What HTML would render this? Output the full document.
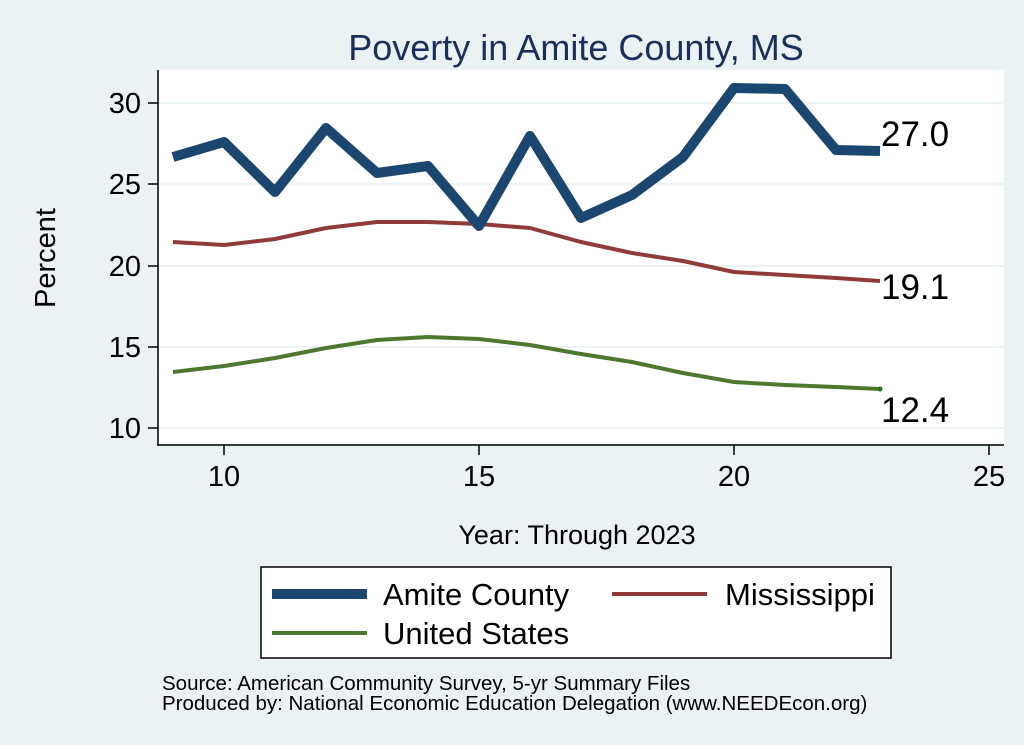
<!DOCTYPE html><html><head><style>body{margin:0;background:#eaf2f3;}svg{display:block;font-family:"Liberation Sans",sans-serif}</style></head><body>
<svg width="1024" height="745" xmlns="http://www.w3.org/2000/svg">
<rect width="1024" height="745" fill="#eaf2f3"/>
<text x="576" y="60" font-size="36" fill="#1a2f5a" text-anchor="middle">Poverty in Amite County, MS</text>
<rect x="158" y="70" width="846" height="374" fill="#fff"/>
<g stroke="#eaf2f3" stroke-width="2">
<line x1="158" x2="1004" y1="103" y2="103"/><line x1="158" x2="1004" y1="184" y2="184"/><line x1="158" x2="1004" y1="266" y2="266"/><line x1="158" x2="1004" y1="347" y2="347"/><line x1="158" x2="1004" y1="428" y2="428"/></g>
<g stroke="#000" stroke-width="1.5">
<line x1="158" x2="158" y1="70" y2="445"/><line x1="157" x2="1004" y1="445" y2="445"/>
<line x1="148" x2="158" y1="103" y2="103"/><line x1="148" x2="158" y1="184" y2="184"/><line x1="148" x2="158" y1="266" y2="266"/><line x1="148" x2="158" y1="347" y2="347"/><line x1="148" x2="158" y1="428" y2="428"/>
<line x1="224" x2="224" y1="445" y2="455"/><line x1="479" x2="479" y1="445" y2="455"/><line x1="734" x2="734" y1="445" y2="455"/><line x1="989" x2="989" y1="445" y2="455"/></g>
<g font-size="29" text-anchor="end"><text x="141" y="113">30</text><text x="141" y="194">25</text><text x="141" y="276">20</text><text x="141" y="357">15</text><text x="141" y="438">10</text></g>
<g font-size="29" text-anchor="middle"><text x="224" y="486">10</text><text x="479" y="486">15</text><text x="734" y="486">20</text><text x="989" y="486">25</text></g>
<text x="55" y="258" font-size="29" text-anchor="middle" transform="rotate(-90 55 258)">Percent</text>
<text x="577" y="544" font-size="27" text-anchor="middle">Year: Through 2023</text>
<polyline fill="none" stroke="#4e7730" stroke-width="4" stroke-linejoin="round" points="173,372 224,366 275,358 326,348 377,340 428,337 479,339 530,345 581,354 632,362 683,373 734,382 785,385 836,387 880,389"/>
<circle cx="880" cy="389" r="2.5" fill="#1a7a1a"/>
<polyline fill="none" stroke="#903a3a" stroke-width="4" stroke-linejoin="round" points="173,242 224,245 275,239 326,228 377,222 428,222 479,224 530,228 581,242 632,253 683,261 734,272 785,275 836,278 880,281"/>
<polyline fill="none" stroke="#1b4670" stroke-width="10" stroke-linejoin="round" points="173,157 224,142 275,192 326,128 377,173 428,166 479,226 530,136 581,218 632,195 683,157 734,88 785,89 836,150 880,151"/>
<g font-size="35"><text x="881" y="146">27.0</text><text x="881" y="299">19.1</text><text x="881" y="422">12.4</text></g>
<rect x="261" y="567" width="630" height="91" fill="#fff" stroke="#000" stroke-width="1.5"/>
<line x1="272" x2="367" y1="594" y2="594" stroke="#1b4670" stroke-width="10"/>
<text x="383" y="605" font-size="31">Amite County</text>
<line x1="612" x2="707" y1="594" y2="594" stroke="#903a3a" stroke-width="4"/>
<text x="725" y="605" font-size="31">Mississippi</text>
<line x1="272" x2="367" y1="633" y2="633" stroke="#4e7730" stroke-width="4"/>
<text x="383" y="644" font-size="31">United States</text>
<text x="162" y="690" font-size="20.5">Source: American Community Survey, 5-yr Summary Files</text>
<text x="162" y="710" font-size="20.5">Produced by: National Economic Education Delegation (www.NEEDEcon.org)</text>
</svg></body></html>
